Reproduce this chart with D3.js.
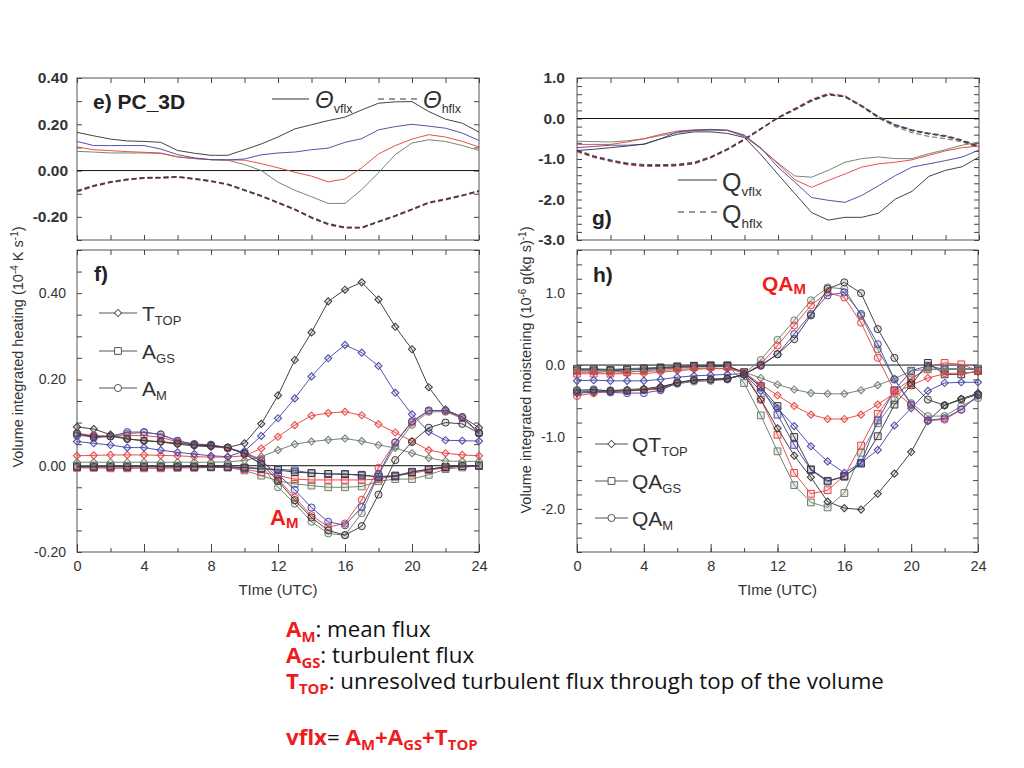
<!DOCTYPE html>
<html><head><meta charset="utf-8">
<script src="https://cdn.jsdelivr.net/npm/d3@7"></script>
<style>body{margin:0;background:#fff}svg{display:block}</style>
</head><body>
<svg id="c" width="1024" height="768"></svg>
<script>
// ---------- data ----------
const hours = [0,1,2,3,4,5,6,7,8,9,10,11,12,13,14,15,16,17,18,19,20,21,22,23,24];
const xMinorTicks = [0,2,4,6,8,10,12,14,16,18,20,22,24];
const xMajorTicks = [0,4,8,12,16,20,24];

// panel e (heating, vflx solid / hflx dashed)
const eVflxBlack = [0.165,0.150,0.136,0.128,0.126,0.122,0.087,0.075,0.066,0.066,0.090,0.115,0.145,0.180,0.198,0.216,0.231,0.262,0.291,0.297,0.298,0.255,0.222,0.205,0.166];
const eVflxBlue  = [0.126,0.108,0.108,0.108,0.108,0.093,0.069,0.055,0.047,0.046,0.050,0.068,0.076,0.080,0.090,0.097,0.122,0.138,0.176,0.190,0.200,0.192,0.183,0.162,0.130];
const eVflxRed   = [0.102,0.090,0.086,0.082,0.079,0.076,0.059,0.052,0.047,0.046,0.045,0.030,0.012,-0.007,-0.024,-0.049,-0.036,0.012,0.072,0.108,0.136,0.155,0.145,0.126,0.102];
const eVflxGray  = [0.083,0.080,0.076,0.076,0.076,0.074,0.059,0.052,0.047,0.045,0.026,0.000,-0.050,-0.085,-0.113,-0.142,-0.142,-0.082,-0.010,0.069,0.119,0.133,0.126,0.108,0.087];
const eHflxBlack = [-0.089,-0.067,-0.050,-0.039,-0.032,-0.031,-0.027,-0.036,-0.046,-0.060,-0.085,-0.110,-0.139,-0.168,-0.204,-0.232,-0.247,-0.247,-0.221,-0.196,-0.168,-0.139,-0.125,-0.108,-0.089];
const eHflxBlue  = [-0.086,-0.064,-0.048,-0.037,-0.030,-0.029,-0.026,-0.034,-0.044,-0.058,-0.083,-0.108,-0.137,-0.166,-0.201,-0.229,-0.244,-0.245,-0.219,-0.194,-0.166,-0.137,-0.122,-0.106,-0.087];
const eHflxRed   = [-0.092,-0.069,-0.052,-0.041,-0.034,-0.033,-0.029,-0.038,-0.048,-0.062,-0.087,-0.112,-0.141,-0.170,-0.206,-0.234,-0.249,-0.249,-0.223,-0.198,-0.170,-0.141,-0.127,-0.110,-0.091];
const eHflxGray  = [-0.090,-0.066,-0.049,-0.038,-0.031,-0.030,-0.028,-0.035,-0.045,-0.059,-0.084,-0.109,-0.138,-0.167,-0.203,-0.231,-0.246,-0.246,-0.220,-0.195,-0.167,-0.138,-0.124,-0.107,-0.088];
const eLabelTicks = [0.4,0.2,0,-0.2];
const eMinorTicks = [0.4,0.3,0.2,0.1,0,-0.1,-0.2,-0.3];

// panel g (moistening, vflx solid / hflx dashed)
const gVflxBlack = [-0.79,-0.76,-0.72,-0.68,-0.63,-0.50,-0.39,-0.33,-0.33,-0.37,-0.47,-0.90,-1.38,-1.85,-2.32,-2.51,-2.44,-2.44,-2.34,-1.99,-1.80,-1.43,-1.28,-1.19,-0.95];
const gVflxBlue  = [-0.72,-0.69,-0.66,-0.66,-0.64,-0.50,-0.33,-0.29,-0.27,-0.29,-0.41,-0.74,-1.20,-1.57,-1.95,-2.02,-2.07,-1.90,-1.66,-1.41,-1.20,-1.12,-1.04,-0.95,-0.78];
const gVflxRed   = [-0.64,-0.64,-0.64,-0.58,-0.50,-0.39,-0.31,-0.28,-0.27,-0.29,-0.43,-0.74,-1.12,-1.51,-1.70,-1.53,-1.37,-1.20,-1.12,-1.08,-1.02,-0.91,-0.80,-0.72,-0.68];
const gVflxGray  = [-0.56,-0.57,-0.58,-0.55,-0.50,-0.42,-0.35,-0.30,-0.29,-0.30,-0.45,-0.75,-1.10,-1.42,-1.45,-1.28,-1.08,-0.99,-0.95,-0.99,-0.99,-0.87,-0.77,-0.66,-0.58];
const gHflxBlack = [-0.80,-0.94,-1.04,-1.12,-1.16,-1.16,-1.15,-1.10,-0.96,-0.76,-0.52,-0.25,0.02,0.23,0.45,0.60,0.54,0.30,0.03,-0.17,-0.30,-0.38,-0.44,-0.55,-0.70];
const gHflxBlue  = [-0.78,-0.92,-1.02,-1.10,-1.14,-1.14,-1.13,-1.08,-0.94,-0.74,-0.50,-0.24,0.01,0.21,0.43,0.58,0.55,0.32,0.05,-0.15,-0.28,-0.36,-0.42,-0.53,-0.68];
const gHflxRed   = [-0.82,-0.96,-1.06,-1.14,-1.18,-1.18,-1.17,-1.12,-0.97,-0.77,-0.53,-0.26,0.03,0.25,0.47,0.62,0.56,0.31,0.04,-0.16,-0.29,-0.37,-0.44,-0.56,-0.72];
const gHflxGray  = [-0.81,-0.95,-1.05,-1.13,-1.17,-1.17,-1.16,-1.11,-0.96,-0.76,-0.52,-0.25,0.02,0.22,0.44,0.59,0.53,0.29,0.01,-0.20,-0.35,-0.44,-0.50,-0.58,-0.72];
const gLabelTicks = [1,0,-1,-2,-3];
const gMinorTicks = [1,0.8,0.6,0.4,0.2,0,-0.2,-0.4,-0.6,-0.8,-1,-1.2,-1.4,-1.6,-1.8,-2,-2.2,-2.4,-2.6,-2.8,-3];

// panel f (heating components)
const fTtopBlack = [0.090,0.085,0.072,0.062,0.058,0.055,0.050,0.046,0.044,0.042,0.052,0.097,0.163,0.245,0.309,0.381,0.408,0.425,0.385,0.322,0.270,0.182,0.130,0.113,0.088];
const fTtopBlue  = [0.056,0.052,0.048,0.042,0.042,0.036,0.031,0.027,0.023,0.021,0.034,0.069,0.110,0.156,0.207,0.249,0.280,0.262,0.231,0.169,0.119,0.079,0.059,0.058,0.057];
const fTtopRed   = [0.023,0.024,0.025,0.025,0.025,0.024,0.023,0.021,0.020,0.020,0.023,0.040,0.067,0.094,0.116,0.122,0.125,0.117,0.096,0.077,0.057,0.036,0.029,0.025,0.023];
const fTtopGray  = [0.008,0.008,0.008,0.008,0.008,0.008,0.008,0.008,0.008,0.009,0.012,0.021,0.036,0.050,0.056,0.060,0.063,0.057,0.048,0.041,0.029,0.018,0.011,0.010,0.010];
const fAgsBlack  = [-0.002,-0.002,-0.002,-0.002,-0.002,-0.002,-0.002,-0.002,-0.002,-0.002,-0.004,-0.006,-0.010,-0.015,-0.017,-0.019,-0.020,-0.021,-0.026,-0.025,-0.015,-0.008,-0.003,-0.001,0.000];
const fAgsBlue   = [-0.003,-0.003,-0.003,-0.003,-0.003,-0.003,-0.003,-0.003,-0.003,-0.003,-0.005,-0.008,-0.008,-0.011,-0.017,-0.019,-0.019,-0.023,-0.025,-0.023,-0.014,-0.008,-0.003,-0.001,0.000];
const fAgsRed    = [-0.005,-0.005,-0.006,-0.006,-0.006,-0.006,-0.005,-0.005,-0.004,-0.004,-0.008,-0.015,-0.023,-0.031,-0.033,-0.033,-0.033,-0.033,-0.031,-0.023,-0.018,-0.010,-0.005,-0.001,0.000];
const fAgsGray   = [0.000,0.000,-0.001,-0.001,-0.001,-0.001,-0.001,-0.002,-0.003,-0.004,-0.011,-0.023,-0.035,-0.042,-0.046,-0.050,-0.050,-0.048,-0.036,-0.031,-0.031,-0.021,-0.008,-0.004,0.000];
const fAmBlack   = [0.075,0.065,0.068,0.062,0.058,0.056,0.052,0.048,0.046,0.042,0.028,0.005,-0.035,-0.080,-0.120,-0.150,-0.161,-0.140,-0.067,0.013,0.055,0.088,0.100,0.097,0.075];
const fAmBlue    = [0.070,0.068,0.068,0.078,0.078,0.072,0.058,0.050,0.048,0.042,0.030,0.011,-0.020,-0.056,-0.097,-0.130,-0.138,-0.096,-0.019,0.054,0.103,0.128,0.128,0.113,0.077];
const fAmRed     = [0.075,0.070,0.068,0.070,0.070,0.066,0.055,0.048,0.046,0.040,0.030,0.015,-0.031,-0.074,-0.115,-0.142,-0.134,-0.079,-0.005,0.054,0.100,0.128,0.127,0.112,0.075];
const fAmGray    = [0.073,0.069,0.068,0.074,0.077,0.073,0.057,0.050,0.049,0.041,0.028,0.002,-0.050,-0.088,-0.130,-0.157,-0.161,-0.110,-0.020,0.045,0.095,0.125,0.125,0.110,0.075];
const fLabelTicks = [0.4,0.2,0,-0.2];
const fMinorTicks = [0.5,0.45,0.4,0.35,0.3,0.25,0.2,0.15,0.1,0.05,0,-0.05,-0.1,-0.15,-0.2];

// panel h (moistening components)
const hTtopBlack = [-0.39,-0.38,-0.36,-0.34,-0.33,-0.30,-0.25,-0.21,-0.20,-0.19,-0.14,-0.48,-0.88,-1.26,-1.56,-1.90,-1.99,-2.01,-1.79,-1.51,-1.21,-0.78,-0.56,-0.47,-0.39];
const hTtopBlue  = [-0.22,-0.21,-0.22,-0.22,-0.22,-0.20,-0.17,-0.15,-0.14,-0.13,-0.12,-0.36,-0.60,-0.85,-1.13,-1.34,-1.50,-1.36,-1.18,-0.84,-0.60,-0.36,-0.25,-0.24,-0.24];
const hTtopRed   = [-0.10,-0.10,-0.12,-0.12,-0.12,-0.10,-0.08,-0.06,-0.05,-0.05,-0.10,-0.27,-0.42,-0.57,-0.69,-0.75,-0.75,-0.69,-0.55,-0.39,-0.28,-0.18,-0.12,-0.11,-0.10];
const hTtopGray  = [-0.08,-0.08,-0.09,-0.09,-0.09,-0.08,-0.06,-0.05,-0.04,-0.05,-0.10,-0.18,-0.27,-0.34,-0.39,-0.40,-0.40,-0.35,-0.28,-0.19,-0.08,-0.06,-0.06,-0.06,-0.06];
const hAgsBlack  = [-0.06,-0.06,-0.07,-0.06,-0.05,-0.04,-0.02,-0.01,-0.01,-0.01,-0.10,-0.31,-0.57,-1.00,-1.45,-1.61,-1.55,-1.37,-0.99,-0.55,-0.28,0.03,-0.13,-0.13,-0.08];
const hAgsBlue   = [-0.08,-0.08,-0.08,-0.07,-0.06,-0.05,-0.03,-0.02,-0.02,-0.02,-0.12,-0.29,-0.69,-1.11,-1.46,-1.62,-1.55,-1.36,-0.77,-0.35,-0.08,-0.01,-0.06,-0.06,-0.06];
const hAgsRed    = [-0.12,-0.12,-0.12,-0.10,-0.08,-0.06,-0.04,-0.03,-0.02,-0.02,-0.10,-0.48,-0.97,-1.50,-1.79,-1.74,-1.54,-1.12,-0.68,-0.36,-0.20,-0.03,0.03,0.01,-0.08];
const hAgsGray   = [-0.05,-0.05,-0.06,-0.05,-0.04,-0.03,-0.02,-0.01,0.00,0.00,-0.25,-0.70,-1.20,-1.67,-1.91,-1.98,-1.78,-1.22,-0.81,-0.49,-0.18,-0.06,-0.05,-0.05,-0.05];
const hAmBlack   = [-0.35,-0.34,-0.36,-0.36,-0.34,-0.32,-0.24,-0.21,-0.20,-0.19,-0.13,-0.01,0.15,0.36,0.69,1.06,1.15,1.00,0.50,0.10,-0.25,-0.48,-0.56,-0.48,-0.41];
const hAmBlue    = [-0.38,-0.36,-0.38,-0.39,-0.39,-0.35,-0.25,-0.21,-0.20,-0.19,-0.13,0.00,0.15,0.43,0.71,0.97,1.01,0.71,0.29,-0.20,-0.55,-0.77,-0.74,-0.62,-0.42];
const hAmRed     = [-0.43,-0.39,-0.37,-0.36,-0.35,-0.33,-0.25,-0.21,-0.20,-0.19,-0.13,0.01,0.27,0.55,0.83,1.01,0.94,0.59,0.10,-0.36,-0.56,-0.77,-0.76,-0.62,-0.42];
const hAmGray    = [-0.36,-0.36,-0.35,-0.35,-0.34,-0.33,-0.26,-0.23,-0.22,-0.20,-0.12,0.07,0.35,0.62,0.90,1.08,1.06,0.69,0.22,-0.20,-0.53,-0.71,-0.71,-0.57,-0.46];
const hLabelTicks = [1,0,-1,-2];
const hMinorTicks = [1.6,1.4,1.2,1,0.8,0.6,0.4,0.2,0,-0.2,-0.4,-0.6,-0.8,-1,-1.2,-1.4,-1.6,-1.8,-2,-2.2,-2.4,-2.6];

// ---------- drawing ----------
const svg = d3.select("#c");
const COL = {black:"#3a3a3a", blue:"#4a4aa8", red:"#e84646", gray:"#6e806e"};
const TXT = "#333";
const FONT = "'Liberation Sans', Arial, sans-serif";
const NARROW = "'Liberation Sans Narrow', 'Liberation Sans', Arial, sans-serif";
const fmt2 = v => d3.format(".2f")(v).replace("\u2212","-");
const fmt1 = v => d3.format(".1f")(v).replace("\u2212","-");

function tidy(sel){ sel.select(".domain").remove(); sel.selectAll("line").attr("stroke","#444"); }
function tidyLbl(sel, size, weight){
  sel.select(".domain").remove();
  sel.selectAll("line").remove();
  sel.selectAll("text").attr("font-family",FONT).attr("font-size",size).attr("font-weight",weight).attr("fill",TXT);
}

function makePanel(c){
  const g = svg.append("g");
  const x = d3.scaleLinear().domain([0,24]).range([c.left,c.right]);
  const y = d3.scaleLinear().domain(c.domain).range([c.bottom,c.top]);
  g.append("rect").attr("x",c.left).attr("y",c.top).attr("width",c.right-c.left).attr("height",c.bottom-c.top)
    .attr("fill","none").attr("stroke","#555").attr("stroke-width",1);
  g.append("g").attr("transform",`translate(${c.left},0)`).call(d3.axisLeft(y).tickValues(c.minor).tickSize(-5).tickFormat("")).call(tidy);
  g.append("g").attr("transform",`translate(${c.right},0)`).call(d3.axisRight(y).tickValues(c.minor).tickSize(-5).tickFormat("")).call(tidy);
  g.append("g").attr("transform",`translate(0,${c.top})`).call(d3.axisTop(x).tickValues(xMinorTicks).tickSize(-5).tickFormat("")).call(tidy);
  g.append("g").attr("transform",`translate(0,${c.bottom})`).call(d3.axisBottom(x).tickValues(xMinorTicks).tickSize(c.xLabels?-4:-5).tickFormat("")).call(tidy);
  if(c.xLabels){
    g.append("g").attr("transform",`translate(0,${c.bottom})`).call(d3.axisBottom(x).tickValues(xMajorTicks).tickSize(-8).tickFormat("")).call(tidy);
    const xl = g.append("g").attr("transform",`translate(0,${c.bottom})`).call(d3.axisBottom(x).tickValues(xMajorTicks).tickSize(0).tickPadding(9).tickFormat(d3.format("d")));
    tidyLbl(xl, 14.5, "normal");
    xl.selectAll("text").attr("font-family",NARROW);
    g.append("text").attr("x",(c.left+c.right)/2).attr("y",c.bottom+43).attr("text-anchor","middle")
      .attr("font-family",NARROW).attr("font-size",15).attr("fill",TXT).text("TIme (UTC)");
  }
  const yl = g.append("g").attr("transform",`translate(${c.left},0)`).call(d3.axisLeft(y).tickValues(c.labels).tickSize(0).tickPadding(c.pad).tickFormat(c.fmt));
  tidyLbl(yl, c.lsize, c.lweight);
  // zero line
  g.append("line").attr("x1",c.left).attr("x2",c.right).attr("y1",y(0)).attr("y2",y(0)).attr("stroke","#111").attr("stroke-width",1);
  return {g,x,y};
}

const diamondPath = d3.symbol().type(d3.symbolSquare).size(26)();
const squarePath = d3.symbol().type(d3.symbolSquare).size(46)();
const circlePath = d3.symbol().type(d3.symbolCircle).size(40)();

function series(p, vals, color, opts={}){
  const line = d3.line().x((d,i)=>p.x(hours[i])).y(d=>p.y(d));
  p.g.append("path").datum(vals).attr("d",line).attr("fill","none").attr("stroke",color)
    .attr("stroke-width",opts.width||1).attr("stroke-dasharray",opts.dash||null).attr("opacity",0.95);
  if(opts.marker){
    const path = opts.marker==="diamond"?diamondPath:opts.marker==="square"?squarePath:circlePath;
    const rot = opts.marker==="diamond"?" rotate(45)":"";
    p.g.append("g").selectAll("path").data(vals).join("path")
      .attr("d",path).attr("transform",(d,i)=>`translate(${p.x(hours[i])},${p.y(d)})${rot}`)
      .attr("fill",color).attr("fill-opacity",0.15).attr("stroke",color).attr("stroke-width",1);
  }
}

// ----- panel e -----
const pe = makePanel({left:77,right:479,top:78,bottom:240,domain:[-0.3,0.4],minor:eMinorTicks,labels:eLabelTicks,fmt:fmt2,pad:9,lsize:15.5,lweight:"bold"});
[[eHflxGray,COL.gray],[eHflxRed,COL.red],[eHflxBlue,COL.blue],[eHflxBlack,COL.black]].forEach(([v,c])=>series(pe,v,c,{dash:"5,3",width:1.2}));
[[eVflxGray,COL.gray],[eVflxRed,COL.red],[eVflxBlue,COL.blue],[eVflxBlack,COL.black]].forEach(([v,c])=>series(pe,v,c));

// ----- panel g -----
const pg = makePanel({left:577,right:979,top:78,bottom:240,domain:[-3,1],minor:gMinorTicks,labels:gLabelTicks,fmt:fmt1,pad:12,lsize:15.5,lweight:"bold"});
[[gHflxGray,COL.gray],[gHflxRed,COL.red],[gHflxBlue,COL.blue],[gHflxBlack,COL.black]].forEach(([v,c])=>series(pg,v,c,{dash:"5,3",width:1.2}));
[[gVflxGray,COL.gray],[gVflxRed,COL.red],[gVflxBlue,COL.blue],[gVflxBlack,COL.black]].forEach(([v,c])=>series(pg,v,c));

// ----- panel f -----
const pf = makePanel({left:77,right:479,top:250,bottom:552,domain:[-0.2,0.5],minor:fMinorTicks,labels:fLabelTicks,fmt:fmt2,pad:11,lsize:14,lweight:"normal",xLabels:true});
[[fAgsGray,COL.gray],[fAgsRed,COL.red],[fAgsBlue,COL.blue],[fAgsBlack,COL.black]].forEach(([v,c])=>series(pf,v,c,{marker:"square"}));
[[fTtopGray,COL.gray],[fTtopRed,COL.red],[fTtopBlue,COL.blue],[fTtopBlack,COL.black]].forEach(([v,c])=>series(pf,v,c,{marker:"diamond"}));
[[fAmGray,COL.gray],[fAmRed,COL.red],[fAmBlue,COL.blue],[fAmBlack,COL.black]].forEach(([v,c])=>series(pf,v,c,{marker:"circle"}));

// ----- panel h -----
const ph = makePanel({left:577,right:978,top:250,bottom:552,domain:[-2.6,1.6],minor:hMinorTicks,labels:hLabelTicks,fmt:fmt1,pad:12,lsize:14,lweight:"normal",xLabels:true});
[[hAgsGray,COL.gray],[hAgsRed,COL.red],[hAgsBlue,COL.blue],[hAgsBlack,COL.black]].forEach(([v,c])=>series(ph,v,c,{marker:"square"}));
[[hTtopGray,COL.gray],[hTtopRed,COL.red],[hTtopBlue,COL.blue],[hTtopBlack,COL.black]].forEach(([v,c])=>series(ph,v,c,{marker:"diamond"}));
[[hAmGray,COL.gray],[hAmRed,COL.red],[hAmBlue,COL.blue],[hAmBlack,COL.black]].forEach(([v,c])=>series(ph,v,c,{marker:"circle"}));

// ---------- panel labels & legends ----------
function txt(x,y,parts,opts={}){
  const t = svg.append("text").attr("x",x).attr("y",y).attr("font-family",opts.family||FONT)
    .attr("font-size",opts.size||14).attr("fill",opts.fill||TXT).attr("font-weight",opts.weight||"normal")
    .attr("font-style",opts.style||"normal").attr("text-anchor",opts.anchor||"start");
  parts.forEach(p=>{
    if(typeof p==="string"){ t.append("tspan").text(p); }
    else {
      const s = t.append("tspan").text(p.t);
      if(p.size) s.attr("font-size",p.size);
      if(p.dy!==undefined) s.attr("dy",p.dy);
      if(p.fill) s.attr("fill",p.fill);
      if(p.weight) s.attr("font-weight",p.weight);
      if(p.style) s.attr("font-style",p.style);
    }
  });
  return t;
}
txt(93,109,["e) PC_3D"],{size:21,weight:"bold",fill:"#222"});
txt(592,225,["g)"],{size:21,weight:"bold",fill:"#222"});
txt(94,281,["f)"],{size:21,weight:"bold",fill:"#222"});
txt(593,282,["h)"],{size:21,weight:"bold",fill:"#222"});

// legend e
svg.append("line").attr("x1",272).attr("x2",309).attr("y1",99).attr("y2",99).attr("stroke","#333");
txt(315,108,["\u0398",{t:"vflx",size:12.5,dy:5,style:"normal"}],{size:24,style:"italic"});
svg.append("line").attr("x1",378).attr("x2",418).attr("y1",99).attr("y2",99).attr("stroke","#333").attr("stroke-dasharray","6,5");
txt(423,108,["\u0398",{t:"hflx",size:12.5,dy:5,style:"normal"}],{size:24,style:"italic"});

// legend g
svg.append("line").attr("x1",678).attr("x2",717).attr("y1",180).attr("y2",180).attr("stroke","#333");
txt(722,191,["Q",{t:"vflx",size:13.5,dy:5}],{size:25});
svg.append("line").attr("x1",678).attr("x2",717).attr("y1",212).attr("y2",212).attr("stroke","#333").attr("stroke-dasharray","6,5");
txt(722,223,["Q",{t:"hflx",size:13.5,dy:5}],{size:25});

// legends f/h with markers
function legendItem(x1,x2,y,marker,tx,parts){
  svg.append("line").attr("x1",x1).attr("x2",x2).attr("y1",y).attr("y2",y).attr("stroke","#555");
  const path = marker==="diamond"?diamondPath:marker==="square"?squarePath:circlePath;
  const rot = marker==="diamond"?" rotate(45)":"";
  svg.append("path").attr("d",path).attr("transform",`translate(${(x1+x2)/2},${y})${rot}`)
    .attr("fill","#fff").attr("stroke","#555");
  txt(tx,y+8,parts,{size:21,fill:"#333"});
}
legendItem(99,137,313,"diamond",142,["T",{t:"TOP",size:13,dy:4}]);
legendItem(99,137,351,"square",142,["A",{t:"GS",size:13,dy:4}]);
legendItem(99,137,388,"circle",142,["A",{t:"M",size:13,dy:4}]);
legendItem(595,628,444,"diamond",632,["QT",{t:"TOP",size:13,dy:4}]);
legendItem(595,628,481,"square",632,["QA",{t:"GS",size:13,dy:4}]);
legendItem(595,628,518,"circle",632,["QA",{t:"M",size:13,dy:4}]);

// red annotations
const RED = "#ee1c1c";
txt(270,525,["A",{t:"M",size:15,dy:3}],{size:22,weight:"bold",fill:RED});
txt(762,291,["QA",{t:"M",size:15,dy:3}],{size:21,weight:"bold",fill:RED});

// y-axis titles
svg.append("text").attr("transform","translate(23,347) rotate(-90)").attr("text-anchor","middle")
  .attr("font-family",FONT).attr("font-size",14.5).attr("fill",TXT)
  .call(t=>{ t.append("tspan").text("Volume integrated heating (10");
    t.append("tspan").text("-4").attr("font-size",10).attr("dy",-5);
    t.append("tspan").text(" K s").attr("dy",5);
    t.append("tspan").text("-1").attr("font-size",10).attr("dy",-5);
    t.append("tspan").text(")").attr("dy",5); });
svg.append("text").attr("transform","translate(531,370) rotate(-90)").attr("text-anchor","middle")
  .attr("font-family",FONT).attr("font-size",14.5).attr("fill",TXT)
  .call(t=>{ t.append("tspan").text("Volume integrated moistening (10");
    t.append("tspan").text("-6").attr("font-size",10).attr("dy",-5);
    t.append("tspan").text(" g(kg s)").attr("dy",5);
    t.append("tspan").text("-1").attr("font-size",10).attr("dy",-5);
    t.append("tspan").text(")").attr("dy",5); });

// ---------- bottom notes ----------
const NOTE = "'Open Sans', 'Noto Sans', sans-serif";
const notes = svg.append("g");
function note(y,parts){
  const t = notes.append("text").attr("x",286).attr("y",y).attr("font-family",NOTE).attr("font-size",21).attr("fill","#111");
  parts.forEach(p=>{
    const s = t.append("tspan").text(p.t);
    if(p.red) s.attr("fill",RED).attr("font-weight","bold");
    if(p.sub) s.attr("font-size",14).attr("dy",5);
    if(p.up) s.attr("dy",-5);
  });
  return t;
}
note(637,[{t:"A",red:1},{t:"M",red:1,sub:1},{t:": mean flux",up:1}]);
note(663,[{t:"A",red:1},{t:"GS",red:1,sub:1},{t:": turbulent flux",up:1}]);
const l3 = note(689,[{t:"T",red:1},{t:"TOP",red:1,sub:1},{t:": unresolved turbulent flux through top of the volume",up:1}]);
note(745,[{t:"vflx",red:1},{t:"= "},{t:"A",red:1},{t:"M",red:1,sub:1},{t:"+",red:1,up:1},{t:"A",red:1},{t:"GS",red:1,sub:1},{t:"+",red:1,up:1},{t:"T",red:1},{t:"TOP",red:1,sub:1}]);
const w = l3.node().getBBox().width;
const k = 598 / w;
notes.attr("transform",`translate(286,0) scale(${k},1) translate(-286,0)`);
</script>
</body></html>
